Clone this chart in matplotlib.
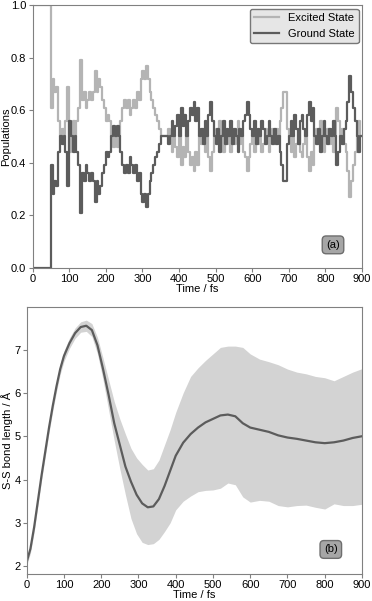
import numpy as np
import matplotlib
matplotlib.use("Agg")
import matplotlib.pyplot as plt

plt.rcParams['font.family'] = ['Liberation Sans', 'DejaVu Sans']
plt.rcParams['font.size'] = 8

# panel (a): state populations every 5 fs
pop_time = list(range(0, 905, 5))
ground = [0, 0, 0, 0, 0, 0, 0, 0, 0, 0,
          0.39, 0.28, 0.33, 0.31, 0.44, 0.50, 0.47, 0.50, 0.44, 0.31,
          0.56, 0.50, 0.44, 0.50, 0.44, 0.39, 0.21, 0.36, 0.33, 0.39,
          0.36, 0.33, 0.36, 0.33, 0.25, 0.33, 0.28, 0.31, 0.36, 0.39,
          0.44, 0.42, 0.44, 0.50, 0.54, 0.50, 0.54, 0.50, 0.44, 0.39,
          0.36, 0.39, 0.36, 0.42, 0.39, 0.36, 0.39, 0.33, 0.36, 0.28,
          0.25, 0.28, 0.23, 0.28, 0.33, 0.36, 0.39, 0.42, 0.44, 0.47,
          0.50, 0.50, 0.50, 0.50, 0.47, 0.50, 0.56, 0.50, 0.54, 0.58,
          0.50, 0.61, 0.54, 0.58, 0.50, 0.56, 0.61, 0.58, 0.63, 0.56,
          0.61, 0.50, 0.53, 0.47, 0.56, 0.50, 0.58, 0.63, 0.56, 0.50,
          0.47, 0.53, 0.44, 0.50, 0.56, 0.47, 0.53, 0.50, 0.56, 0.47,
          0.53, 0.50, 0.44, 0.53, 0.50, 0.56, 0.58, 0.63, 0.58, 0.53,
          0.50, 0.56, 0.47, 0.53, 0.50, 0.56, 0.53, 0.47, 0.50, 0.56,
          0.50, 0.47, 0.53, 0.47, 0.50, 0.44, 0.39, 0.33, 0.33, 0.47,
          0.50, 0.56, 0.50, 0.58, 0.53, 0.47, 0.56, 0.58, 0.53, 0.50,
          0.58, 0.63, 0.56, 0.61, 0.50, 0.47, 0.53, 0.44, 0.50, 0.56,
          0.50, 0.47, 0.53, 0.50, 0.56, 0.50, 0.39, 0.44, 0.50, 0.47,
          0.53, 0.56, 0.63, 0.73, 0.67, 0.61, 0.56, 0.50, 0.44, 0.50,
          0.50]
excited = [1, 1, 1, 1, 1, 1, 1, 1, 1, 1,
           0.61, 0.72, 0.67, 0.69, 0.56, 0.50, 0.53, 0.50, 0.56, 0.69,
           0.44, 0.50, 0.56, 0.50, 0.56, 0.61, 0.79, 0.64, 0.67, 0.61,
           0.64, 0.67, 0.64, 0.67, 0.75, 0.67, 0.72, 0.69, 0.64, 0.61,
           0.56, 0.58, 0.56, 0.50, 0.46, 0.50, 0.46, 0.50, 0.56, 0.61,
           0.64, 0.61, 0.64, 0.58, 0.61, 0.64, 0.61, 0.67, 0.64, 0.72,
           0.75, 0.72, 0.77, 0.72, 0.67, 0.64, 0.61, 0.58, 0.56, 0.53,
           0.50, 0.50, 0.50, 0.50, 0.53, 0.50, 0.44, 0.50, 0.46, 0.42,
           0.50, 0.39, 0.46, 0.42, 0.50, 0.44, 0.39, 0.42, 0.37, 0.44,
           0.39, 0.50, 0.47, 0.53, 0.44, 0.50, 0.42, 0.37, 0.44, 0.50,
           0.53, 0.47, 0.56, 0.50, 0.44, 0.53, 0.47, 0.50, 0.44, 0.53,
           0.47, 0.50, 0.56, 0.47, 0.50, 0.44, 0.42, 0.37, 0.42, 0.47,
           0.50, 0.44, 0.53, 0.47, 0.50, 0.44, 0.47, 0.53, 0.50, 0.44,
           0.50, 0.53, 0.47, 0.53, 0.50, 0.56, 0.61, 0.67, 0.67, 0.53,
           0.50, 0.44, 0.50, 0.42, 0.47, 0.53, 0.44, 0.42, 0.47, 0.50,
           0.42, 0.37, 0.44, 0.39, 0.50, 0.53, 0.47, 0.56, 0.50, 0.44,
           0.50, 0.53, 0.47, 0.50, 0.44, 0.50, 0.61, 0.56, 0.50, 0.53,
           0.47, 0.44, 0.37, 0.27, 0.33, 0.39, 0.44, 0.50, 0.56, 0.50,
           0.50]

# panel (b): mean S-S distance with spread
bond_time = [0, 10, 20, 30, 40, 50, 60, 70, 80, 90, 100, 115, 130, 145, 160,
             175, 190, 205, 220, 235, 250, 265, 280, 295, 310, 325, 340, 355,
             370, 385, 400, 420, 440, 460, 480, 500, 520, 540, 560, 580, 600,
             625, 650, 675, 700, 725, 750, 775, 800, 825, 850, 875, 900]
bond_mean = [2.10, 2.40, 2.90, 3.50, 4.10, 4.65, 5.20, 5.70, 6.15, 6.55, 6.85,
             7.15, 7.38, 7.52, 7.55, 7.45, 7.10, 6.55, 5.95, 5.30, 4.80, 4.30,
             3.95, 3.65, 3.45, 3.36, 3.38, 3.55, 3.85, 4.20, 4.55, 4.85, 5.05,
             5.20, 5.32, 5.40, 5.48, 5.50, 5.46, 5.30, 5.20, 5.15, 5.10, 5.02,
             4.97, 4.94, 4.90, 4.86, 4.84, 4.86, 4.90, 4.96, 5.00]
bond_upper = [2.18, 2.50, 3.02, 3.62, 4.22, 4.77, 5.32, 5.82, 6.27, 6.67, 6.97,
              7.27, 7.50, 7.64, 7.68, 7.60, 7.28, 6.80, 6.30, 5.80, 5.40, 5.05,
              4.72, 4.50, 4.35, 4.22, 4.25, 4.45, 4.80, 5.15, 5.55, 6.00, 6.38,
              6.58, 6.75, 6.90, 7.05, 7.08, 7.08, 7.05, 6.90, 6.78, 6.72, 6.65,
              6.55, 6.48, 6.44, 6.38, 6.35, 6.28, 6.38, 6.48, 6.56]
bond_lower = [2.02, 2.30, 2.78, 3.38, 3.98, 4.53, 5.08, 5.58, 6.03, 6.43, 6.73,
              7.03, 7.26, 7.40, 7.42, 7.30, 6.90, 6.30, 5.60, 4.90, 4.25, 3.65,
              3.10, 2.75, 2.55, 2.50, 2.52, 2.62, 2.80, 3.00, 3.30, 3.50, 3.62,
              3.72, 3.75, 3.76, 3.80, 3.92, 3.88, 3.60, 3.48, 3.52, 3.50, 3.40,
              3.37, 3.40, 3.41, 3.36, 3.32, 3.44, 3.40, 3.40, 3.43]

light = '#b4b4b4'
dark = '#5c5c5c'
spine_col = '#808080'

fig = plt.figure(figsize=(3.72, 6.01), dpi=100)
ax1 = fig.add_axes([0.0874, 0.5546, 0.8857, 0.4366])
ax2 = fig.add_axes([0.0717, 0.0449, 0.9014, 0.4441])

ax1.step(pop_time, excited, where='post', color=light, lw=1.6, label='Excited State')
ax1.step(pop_time, ground, where='post', color=dark, lw=1.6, label='Ground State')
ax1.set_xlim(0, 900)
ax1.set_ylim(0, 1)
ax1.set_yticks(np.arange(0, 1.01, 0.2))
ax1.set_xticks(range(0, 901, 100))
ax1.set_xlabel('Time / fs', labelpad=0)
ax1.set_ylabel('Populations')
ax1.yaxis.set_label_coords(-0.066, 0.5)
leg = ax1.legend(loc='upper right', fontsize=8, fancybox=True, framealpha=1,
                 borderaxespad=0.3, handlelength=2.2)
leg.get_frame().set_facecolor('#e6e6e6')
leg.get_frame().set_edgecolor('#777777')
ax1.text(0.912, 0.087, '(a)', transform=ax1.transAxes, ha='center', va='center',
         bbox=dict(boxstyle='round,pad=0.35', fc='#a6a6a6', ec='#6e6e6e'))

ax2.fill_between(bond_time, bond_lower, bond_upper, color='#d3d3d3', lw=0)
ax2.plot(bond_time, bond_mean, color=dark, lw=1.6)
ax2.set_xlim(0, 900)
ax2.set_ylim(1.82, 7.98)
ax2.set_yticks(range(2, 8))
ax2.set_xticks(range(0, 901, 100))
ax2.set_xlabel('Time / fs', labelpad=0)
ax2.set_ylabel('S-S bond length / Å')
ax2.yaxis.set_label_coords(-0.040, 0.5)
ax2.text(0.907, 0.092, '(b)', transform=ax2.transAxes, ha='center', va='center',
         bbox=dict(boxstyle='round,pad=0.35', fc='#a6a6a6', ec='#6e6e6e'))

for ax in (ax1, ax2):
    for s in ax.spines.values():
        s.set_color(spine_col)
    ax.tick_params(length=3, width=0.8, color=spine_col, pad=1.5, labelsize=8)

fig.savefig('out.png', dpi=100)
